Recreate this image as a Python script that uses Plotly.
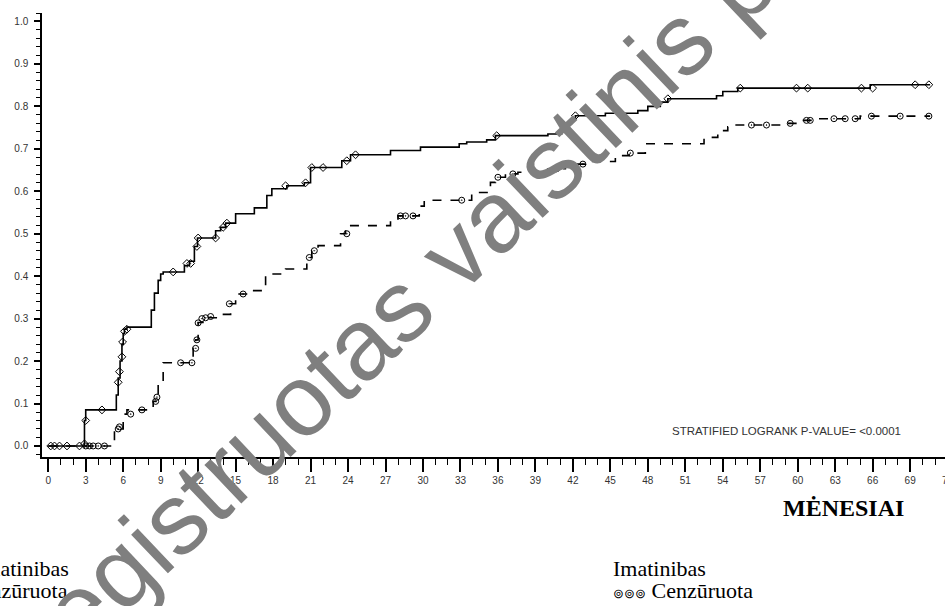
import plotly.graph_objects as go

# ---------------- data ----------------
solid_t = [0, 2.9, 3.0, 5.45, 5.6, 5.75, 5.9, 6.0, 6.1, 6.3, 8.25, 8.5, 8.8, 9.0, 9.2,
           10.9, 11.3, 11.7, 11.95, 13.4, 13.8, 14.2, 15.0, 16.5, 17.5, 17.9, 19.1,
           20.5, 21.0, 23.5, 24.2, 27.4, 29.8, 32.9, 33.5, 35.1, 35.8, 40.0, 41.1,
           41.5, 41.9, 42.2, 44.6, 47.2, 48.0, 49.0, 49.6, 53.5, 54.0, 55.2, 65.8, 70.6]
solid_y = [0.0, 0.06, 0.085, 0.12, 0.16, 0.2, 0.24, 0.265, 0.275, 0.28, 0.32, 0.36, 0.39,
           0.405, 0.41, 0.425, 0.435, 0.47, 0.49, 0.507, 0.515, 0.525, 0.547, 0.561, 0.59,
           0.606, 0.613, 0.62, 0.656, 0.672, 0.686, 0.696, 0.704, 0.712, 0.716, 0.721,
           0.731, 0.735, 0.75, 0.76, 0.77, 0.778, 0.784, 0.79, 0.80, 0.81, 0.818, 0.825,
           0.835, 0.843, 0.851, 0.851]

dashed_t = [0, 5.3, 6.0, 6.3, 8.4, 8.8, 9.2, 11.6, 11.8, 12.0, 12.5, 13.8, 14.6, 15.0,
            16.2, 17.4, 19.0, 20.7, 21.1, 21.6, 23.4, 23.8, 27.4, 28.0, 29.7, 30.1, 33.9,
            35.4, 35.8, 36.6, 37.6, 40.0, 41.4, 43.0, 45.4, 46.5, 47.8, 52.5, 53.6, 54.4,
            54.8, 58.7, 60.0, 61.5, 65.0, 70.6]
dashed_y = [0.0, 0.04, 0.075, 0.085, 0.105, 0.15, 0.196, 0.23, 0.25, 0.291, 0.302, 0.31,
            0.335, 0.358, 0.366, 0.405, 0.417, 0.444, 0.46, 0.472, 0.50, 0.519, 0.535,
            0.542, 0.565, 0.579, 0.597, 0.621, 0.633, 0.641, 0.645, 0.653, 0.664, 0.67,
            0.684, 0.69, 0.712, 0.727, 0.743, 0.752, 0.756, 0.760, 0.767, 0.771, 0.777, 0.777]

solid_cens_t = [0.2, 0.5, 0.9, 1.5, 2.5, 2.9, 3.0, 4.3, 5.6, 5.7, 5.9, 5.95, 6.1, 6.3,
                10.0, 11.1, 11.4, 11.9, 12.0, 13.4, 14.0, 14.3, 19.0, 20.6, 21.1, 22.0,
                23.9, 24.6, 35.9, 42.2, 49.6, 55.4, 59.9, 60.8, 65.1, 66.0, 69.4, 70.5]
solid_cens_y = [0, 0, 0, 0, 0, 0.005, 0.06, 0.085, 0.15, 0.175, 0.21, 0.245, 0.27, 0.275,
                0.41, 0.43, 0.43, 0.47, 0.49, 0.49, 0.515, 0.525, 0.613, 0.62, 0.656, 0.656,
                0.672, 0.686, 0.731, 0.778, 0.818, 0.843, 0.843, 0.843, 0.843, 0.843,
                0.851, 0.851]

dashed_cens_t = [3.0, 3.3, 3.6, 4.0, 4.5, 5.6, 5.7, 6.6, 7.5, 8.6, 8.7, 10.6, 11.5, 11.8,
                 11.9, 12.0, 12.3, 12.6, 13.0, 14.5, 15.6, 20.9, 21.3, 23.9, 28.2, 28.6,
                 29.2, 33.1, 36.0, 37.2, 40.7, 41.5, 42.8, 46.6, 56.3, 57.5, 59.4, 60.7,
                 61.0, 62.9, 63.8, 64.6, 65.9, 68.2, 70.5]
dashed_cens_y = [0, 0, 0, 0, 0, 0.04, 0.045, 0.075, 0.085, 0.105, 0.115, 0.196, 0.196, 0.23,
                 0.25, 0.29, 0.30, 0.302, 0.305, 0.335, 0.358, 0.444, 0.46, 0.50, 0.542,
                 0.542, 0.542, 0.579, 0.633, 0.641, 0.653, 0.664, 0.664, 0.69, 0.756, 0.756,
                 0.760, 0.767, 0.767, 0.771, 0.771, 0.771, 0.777, 0.777, 0.777]

x_ticks = list(range(0, 73, 3))
x_tick_labels = [str(v) for v in x_ticks]
y_ticks = [i / 10 for i in range(11)]
y_tick_labels = ["%.1f" % v for v in y_ticks]

watermark = "Neregistruotas vaistinis preparatas"
x_title = "MĖNESIAI"
pvalue_text = "STRATIFIED LOGRANK P-VALUE= <0.0001"
legend_name = "Imatinibas"
censored_label = "Cenzūruota"

# ---------------- layout geometry ----------------
W, H = 945, 606
L, R, T, B = 42, 0, 13, 149
X_RANGE = [-0.5, 71.79]
Y_RANGE = [-0.026, 1.02]
PW, PH = W - L - R, H - T - B


def px_x(px):
    return (px - L) / PW


def px_y(py):
    return (H - B - py) / PH


fig = go.Figure()
fig.add_trace(go.Scatter(x=dashed_t, y=dashed_y, mode="lines", line_shape="hv",
                         line=dict(color="black", width=1.6, dash="dash")))
fig.add_trace(go.Scatter(x=solid_t, y=solid_y, mode="lines", line_shape="hv",
                         line=dict(color="black", width=1.6)))
fig.add_trace(go.Scatter(x=dashed_cens_t, y=dashed_cens_y, mode="markers",
                         marker=dict(symbol="circle-open-dot", size=6, color="black",
                                     line=dict(width=1))))
fig.add_trace(go.Scatter(x=solid_cens_t, y=solid_cens_y, mode="markers",
                         marker=dict(symbol="diamond-open", size=6, color="black",
                                     line=dict(width=1))))

tickfont = dict(family="Liberation Sans, Arial", size=10, color="#333333")
fig.update_layout(
    width=W, height=H,
    margin=dict(l=L, r=R, t=T, b=B, pad=0),
    paper_bgcolor="white", plot_bgcolor="white",
    showlegend=False,
    xaxis=dict(range=X_RANGE, showgrid=False, zeroline=False, showline=True,
               linecolor="black", linewidth=1.5, ticks="outside", ticklen=13,
               tickwidth=2, tickcolor="black", tickvals=x_ticks, ticktext=x_tick_labels,
               tickfont=tickfont,
               minor=dict(dtick=1, tick0=0, ticks="outside", ticklen=6, tickwidth=1,
                          tickcolor="black", showgrid=False)),
    yaxis=dict(range=Y_RANGE, showgrid=False, zeroline=False, showline=True,
               linecolor="black", linewidth=1.5, ticks="outside", ticklen=6,
               tickwidth=1.5, tickcolor="black", tickvals=y_ticks, ticktext=y_tick_labels,
               tickfont=tickfont, ticklabelstandoff=4,
               minor=dict(dtick=0.02, tick0=0, ticks="outside", ticklen=4, tickwidth=1,
                          tickcolor="black", showgrid=False)),
)

ann = []
# last x tick label that falls beyond the visible range (partially clipped)
last_tick = x_ticks[-1]
ann.append(dict(xref="paper", yref="paper",
                x=(last_tick - X_RANGE[0]) / (X_RANGE[1] - X_RANGE[0]),
                y=px_y(480), text=x_tick_labels[-1], showarrow=False,
                xanchor="center", yanchor="middle", font=tickfont))
ann.append(dict(xref="paper", yref="paper", x=px_x(786), y=px_y(430.5),
                text=pvalue_text, showarrow=False, xanchor="center", yanchor="middle",
                font=dict(family="Liberation Sans, Arial", size=11.5, color="#333333")))
ann.append(dict(xref="paper", yref="paper", x=px_x(843), y=px_y(508),
                text="<b>%s</b>" % x_title, showarrow=False, xanchor="center",
                yanchor="middle",
                font=dict(family="Liberation Serif, Times New Roman", size=24,
                          color="black")))
serif = dict(family="Liberation Serif, Times New Roman", size=22, color="black")
ann.append(dict(xref="paper", yref="paper", x=px_x(71), y=px_y(568), text=legend_name,
                showarrow=False, xanchor="right", yanchor="middle", font=serif))
ann.append(dict(xref="paper", yref="paper", x=px_x(70), y=px_y(590),
                text=censored_label, showarrow=False, xanchor="right",
                yanchor="middle", font=serif))
ann.append(dict(xref="paper", yref="paper", x=px_x(611), y=px_y(568), text=legend_name,
                showarrow=False, xanchor="left", yanchor="middle", font=serif))
ann.append(dict(xref="paper", yref="paper", x=px_x(611), y=px_y(590),
                text="<span style='font-size:13px'>⊚⊚⊚</span> " + censored_label,
                showarrow=False, xanchor="left", yanchor="middle", font=serif))
# watermark
ann.append(dict(xref="paper", yref="paper", x=px_x(503), y=px_y(207), text=watermark,
                showarrow=False, xanchor="center", yanchor="middle", textangle=-43.5,
                font=dict(family="Liberation Sans, Arial", size=101, color="#7f7f7f")))
fig.update_layout(annotations=ann)

fig.write_html("out.html",
               config={"displayModeBar": False},
               post_script="document.body.style.margin='0';"
                           "document.body.style.overflow='hidden';")
